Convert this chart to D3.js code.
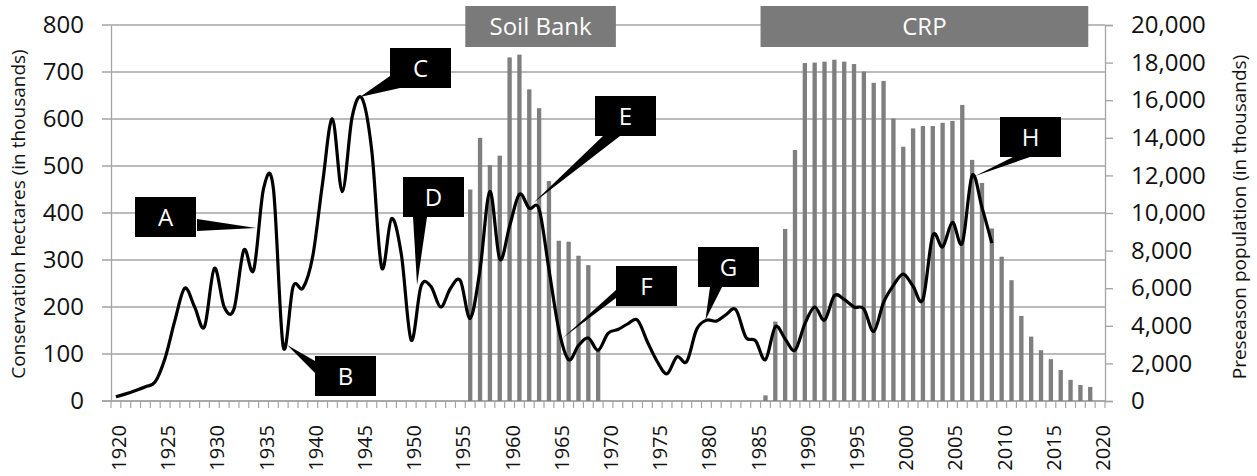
<!DOCTYPE html>
<html>
<head>
<meta charset="utf-8">
<script src="https://cdn.jsdelivr.net/npm/d3@7"></script>
<style>
  body { margin: 0; background: #fff; }
  text { font-family: "Open Sans", sans-serif; }
</style>
</head>
<body>
<script>
const width = 1257;
const height = 476;

// categories (one per year on the x axis)
const years = d3.range(1920, 2021);
const year_labels = years.filter(y => y % 5 == 0);

// conservation hectares (thousands), left axis -> bars
const bar_years = [1956, 1957, 1958, 1959, 1960, 1961, 1962, 1963, 1964, 1965, 1966, 1967, 1968, 1969,
  1986, 1987, 1988, 1989, 1990, 1991, 1992, 1993, 1994, 1995, 1996, 1997, 1998, 1999, 2000, 2001, 2002,
  2003, 2004, 2005, 2006, 2007, 2008, 2009, 2010, 2011, 2012, 2013, 2014, 2015, 2016, 2017, 2018, 2019];
const hectares = [450, 560, 502, 522, 731, 737, 663, 623, 468, 341, 339, 309, 289, 110,
  12, 169, 366, 534, 719, 720, 722, 726, 722, 717, 701, 677, 681, 601, 541, 580, 585,
  585, 592, 596, 630, 513, 464, 367, 307, 257, 181, 137, 108, 89, 66, 45, 34, 30];

// preseason population (thousands), right axis -> line
const pop_years = d3.range(1920, 2010);
const population = [230, 380, 560, 760, 1030, 2290, 4300, 6000, 5000, 3950,
  7060, 5000, 4900, 8030, 6970, 11300, 11300, 2890, 6080, 6010,
  7700, 11600, 15000, 11130, 15100, 16100, 13300, 7100, 9700, 7800,
  3240, 6100, 6100, 5000, 6000, 6400, 4400, 7000, 11150, 7550,
  9300, 11000, 10250, 10200, 7000, 3800, 2200, 2950, 3350, 2700,
  3600, 3800, 4100, 4300, 3150, 2100, 1450, 2350, 2100, 3800,
  4300, 4250, 4600, 4850, 3400, 3200, 2200, 3950, 3300, 2700,
  4100, 5000, 4300, 5600, 5400, 5000, 4900, 3700, 5250, 6150,
  6750, 6100, 5400, 8800, 8200, 9500, 8400, 12000, 10300, 8400];

const hectare_ticks = [0, 100, 200, 300, 400, 500, 600, 700, 800];
const pop_ticks = [0, 2000, 4000, 6000, 8000, 10000, 12000, 14000, 16000, 18000, 20000];

const programs = [
  { name: "Soil Bank", start: 1956, end: 1971.3 },
  { name: "CRP", start: 1986, end: 2019.3 },
];

// letters pointing at the population curve
const callouts = [
  { label: "A", year: 1934.3, pop: 9200 },
  { label: "B", year: 1937.4, pop: 2980 },
  { label: "C", year: 1944.8, pop: 16170 },
  { label: "D", year: 1950.6, pop: 6170 },
  { label: "E", year: 1962.4, pop: 10530 },
  { label: "F", year: 1965.4, pop: 3350 },
  { label: "G", year: 1979.9, pop: 4310 },
  { label: "H", year: 2007.3, pop: 11970 },
];
// box corner + wedge base (relative to box) for each callout
const callout_layout = {
  A: { x: 135, y: 197, base: [[62, 22], [62, 34]] },
  B: { x: 315, y: 356, base: [[0, 5], [0, 17]] },
  C: { x: 390, y: 48, base: [[0, 28], [10, 40]] },
  D: { x: 403, y: 177, base: [[10, 40], [24, 40]] },
  E: { x: 595, y: 96, base: [[8, 40], [25, 40]] },
  F: { x: 616, y: 266, base: [[0, 24], [0, 32]] },
  G: { x: 698, y: 247, base: [[12, 40], [24, 40]] },
  H: { x: 1000, y: 117, base: [[13, 40], [30, 40]] },
};

const plot_left = 111, plot_right = 1105, plot_top = 25, plot_bottom = 401;
const box_w = 61, box_h = 40;

const svg = d3.select("body")
  .append("svg")
  .attr("width", width)
  .attr("height", height);

svg.append("rect")
  .attr("width", width)
  .attr("height", height)
  .attr("fill", "#fff");

const x = d3.scaleBand().domain(years).range([plot_left, plot_right]).padding(0);
const bw = x.bandwidth();
const edge = d3.scaleLinear().domain([1920, 2021]).range([plot_left, plot_right]);
const xc = d3.scaleLinear().domain([1920, 2020]).range([x(1920) + bw / 2, x(2020) + bw / 2]);
const yL = d3.scaleLinear().domain([0, 800]).range([plot_bottom, plot_top]);
const yR = d3.scaleLinear().domain([0, 20000]).range([plot_bottom, plot_top]);

// gridlines
svg.append("g")
  .selectAll("line")
  .data(hectare_ticks)
  .enter()
  .append("line")
  .attr("x1", plot_left - 9)
  .attr("x2", plot_right)
  .attr("y1", d => yL(d))
  .attr("y2", d => yL(d))
  .attr("stroke", d => d == 0 ? "#8c8c8c" : "#a4a4a4")
  .attr("stroke-width", 1.3);

// left axis labels
const axL = svg.append("g")
  .attr("transform", `translate(${plot_left},0)`)
  .call(d3.axisLeft(yL).tickValues(hectare_ticks).tickSize(0).tickPadding(27));
axL.select(".domain").attr("stroke", "#a4a4a4").attr("stroke-width", 1.3);
axL.selectAll("text").attr("font-size", 24).attr("fill", "#111").attr("font-family", "Open Sans");

// right axis
const axR = svg.append("g")
  .attr("transform", `translate(${plot_right},0)`)
  .call(d3.axisRight(yR).tickValues(pop_ticks).tickSize(8).tickPadding(18).tickFormat(d3.format(",")));
axR.select(".domain").attr("stroke", "#a4a4a4").attr("stroke-width", 1.3);
axR.selectAll(".tick line").attr("stroke", "#a4a4a4").attr("stroke-width", 1.3);
axR.selectAll("text").attr("font-size", 24).attr("fill", "#111").attr("font-family", "Open Sans");

// bottom ticks at year boundaries
svg.append("g")
  .selectAll("line")
  .data(d3.range(1920, 2022))
  .enter()
  .append("line")
  .attr("x1", d => edge(d))
  .attr("x2", d => edge(d))
  .attr("y1", plot_bottom)
  .attr("y2", plot_bottom + 7)
  .attr("stroke", "#a4a4a4")
  .attr("stroke-width", 1.2);

const axB = svg.append("g")
  .attr("transform", `translate(0,${plot_bottom})`)
  .call(d3.axisBottom(x).tickValues(year_labels).tickSize(0));
axB.select(".domain").remove();
axB.selectAll("text")
  .attr("font-size", 20)
  .attr("fill", "#111")
  .attr("font-family", "Open Sans")
  .attr("text-anchor", "end")
  .attr("transform", "rotate(-90)")
  .attr("x", -24)
  .attr("y", 2)
  .attr("dy", "0.4em");

// axis titles
svg.append("text")
  .attr("transform", `translate(25,214) rotate(-90)`)
  .attr("text-anchor", "middle")
  .attr("font-size", 19)
  .attr("fill", "#111")
  .text("Conservation hectares (in thousands)");

svg.append("text")
  .attr("transform", `translate(1246,217) rotate(-90)`)
  .attr("text-anchor", "middle")
  .attr("font-size", 19)
  .attr("fill", "#111")
  .text("Preseason population (in thousands)");

// program banners
const banner = svg.append("g")
  .selectAll("g")
  .data(programs)
  .enter()
  .append("g");
banner.append("rect")
  .attr("x", d => edge(d.start))
  .attr("y", 6)
  .attr("width", d => edge(d.end) - edge(d.start))
  .attr("height", 41)
  .attr("fill", "#7a7a7a");
banner.append("text")
  .attr("x", d => (edge(d.start) + edge(d.end)) / 2)
  .attr("y", 27)
  .attr("dy", "0.35em")
  .attr("text-anchor", "middle")
  .attr("font-size", 24)
  .attr("fill", "#fff")
  .text(d => d.name);

// bars
svg.append("g")
  .selectAll("rect")
  .data(bar_years.map((yr, i) => ({ year: yr, value: hectares[i] })))
  .enter()
  .append("rect")
  .attr("x", d => x(d.year) + bw * 0.28)
  .attr("width", bw * 0.44)
  .attr("y", d => yL(d.value))
  .attr("height", d => yL(0) - yL(d.value))
  .attr("fill", "#7f7f7f");

// population line
const line = d3.line()
  .x(d => x(d.year) + bw / 2)
  .y(d => yR(d.value))
  .curve(d3.curveCardinal.tension(0));

svg.append("path")
  .datum(pop_years.map((yr, i) => ({ year: yr, value: population[i] })))
  .attr("d", line)
  .attr("fill", "none")
  .attr("stroke", "#000")
  .attr("stroke-width", 3.2)
  .attr("stroke-linejoin", "round");

// callouts
const co = svg.append("g")
  .selectAll("g")
  .data(callouts)
  .enter()
  .append("g");

co.append("polygon")
  .attr("points", d => {
    const b = callout_layout[d.label];
    const pts = [
      [b.x + b.base[0][0], b.y + b.base[0][1]],
      [xc(d.year), yR(d.pop)],
      [b.x + b.base[1][0], b.y + b.base[1][1]],
    ];
    return pts.map(p => p.join(",")).join(" ");
  })
  .attr("fill", "#000");

co.append("rect")
  .attr("x", d => callout_layout[d.label].x)
  .attr("y", d => callout_layout[d.label].y)
  .attr("width", box_w)
  .attr("height", box_h)
  .attr("fill", "#000");

co.append("text")
  .attr("x", d => callout_layout[d.label].x + box_w / 2)
  .attr("y", d => callout_layout[d.label].y + box_h / 2)
  .attr("dy", "0.36em")
  .attr("text-anchor", "middle")
  .attr("font-size", 24)
  .attr("fill", "#fff")
  .text(d => d.label);
</script>
</body>
</html>
